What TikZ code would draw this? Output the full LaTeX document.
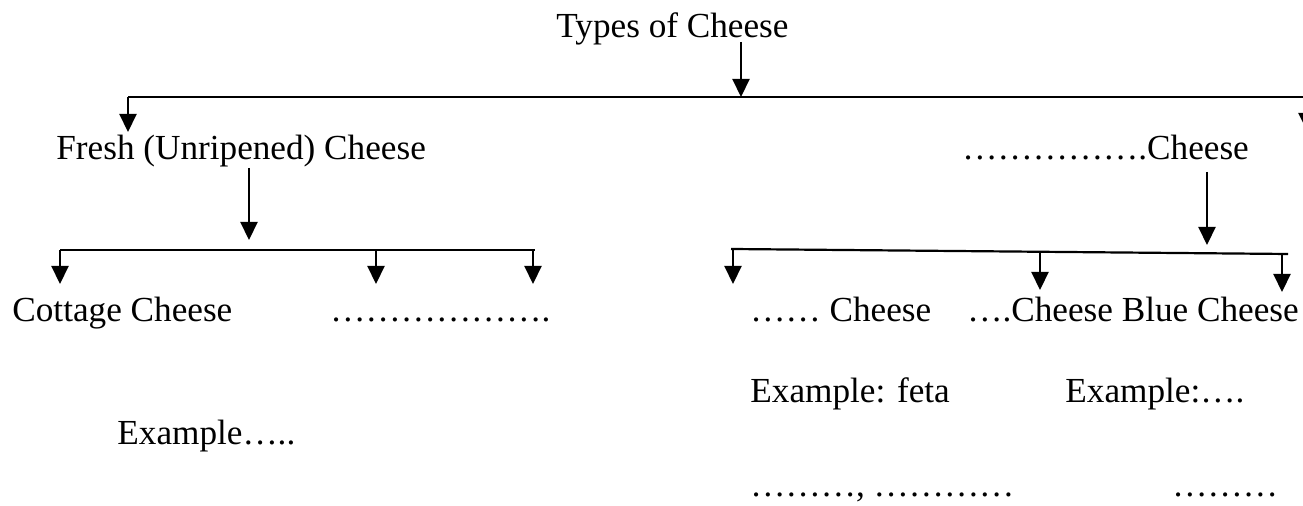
\documentclass[tikz,border=0pt]{standalone}
\usepackage{fontspec}
\setmainfont{Liberation Serif}
\usetikzlibrary{arrows.meta}
\begin{document}
\begin{tikzpicture}[x=0.5pt,y=-0.5pt,
  lbl/.style={inner sep=0pt,anchor=base west,font=\fontsize{17.6}{20}\selectfont},
  ln/.style={line width=1.1pt,black},
  arr/.style={ln,-{Triangle[width=8.5pt,length=9pt]}}]
\useasboundingbox (0,0) rectangle (1303,506);
% texts
\node[lbl] (types) at (556,38) {Types of Cheese};
\node[lbl] (fresh) at (56,160) {Fresh (Unripened) Cheese};
\node[lbl] (other) at (962,160) {…………….Cheese};
\node[lbl] (cottage) at (12,322) {Cottage Cheese};
\node[lbl] (blank1) at (330,322) {……………….};
\node[lbl] (dc) at (750,322) {…… Cheese};
\node[lbl] (dc2) at (967,322) {….Cheese Blue Cheese};
\node[lbl] (ex1) at (117,445) {Example…..};
\node[lbl] (exfeta) at (750,403) {Example: feta};
\node[lbl] (ex2) at (1065,403) {Example:….};
\node[lbl] (dots1) at (750,497) {………, …………};
\node[lbl] (dots2) at (1172,497) {………};
% junction coordinates
\coordinate (t1) at (741,42);
\coordinate (j1) at (741,97);
\coordinate (h1l) at (128,97);
\coordinate (h1rr) at (1307,97);
\coordinate (freshtop) at (128,132);
\coordinate (offtip) at (1307,131);
\coordinate (f1) at (249,168);
\coordinate (j2) at (249,240);
\coordinate (h2l) at (60,250);
\coordinate (h2m) at (376,250);
\coordinate (h2r) at (535,250);
\coordinate (o1) at (1207,172);
\coordinate (j3) at (1207,245);
\coordinate (h3l) at (731,249);
\coordinate (h3m) at (1040,252);
\coordinate (h3r) at (1288,254);
% connectors
\draw[arr] (t1) -- (j1);
\draw[ln] (h1l) -- (h1rr);
\draw[arr] (h1l) -- (freshtop);
\draw[arr] (h1rr) -- (offtip);
\draw[arr] (f1) -- (j2);
\draw[ln] (h2l) -- (h2r);
\draw[arr] (h2l) -- ++(0,34);
\draw[arr] (h2m) -- ++(0,34);
\draw[arr] (533,250) -- ++(0,34);
\draw[arr] (o1) -- (j3);
\draw[ln] (h3l) -- (h3r);
\draw[arr] (733,249) -- ++(0,35);
\draw[arr] (h3m) -- ++(0,38);
\draw[arr] (1282,254) -- ++(0,38);
\end{tikzpicture}
\end{document}
